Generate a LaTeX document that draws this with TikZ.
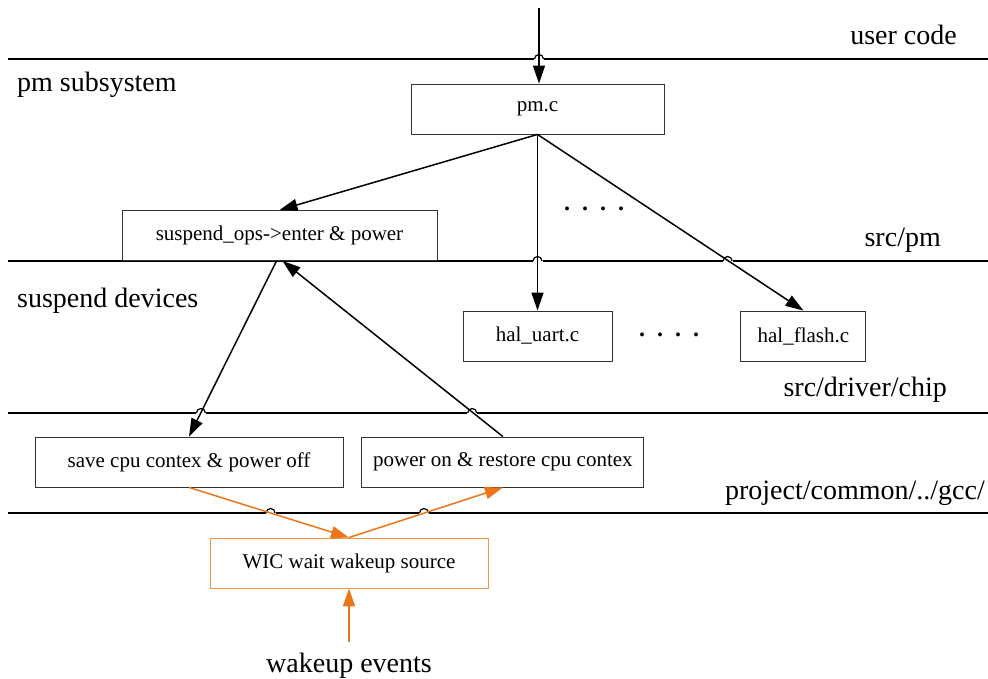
\documentclass[tikz,border=0pt]{standalone}
\usepackage{fontspec}
\setmainfont{Liberation Serif}
\usetikzlibrary{arrows.meta, positioning, calc}
\definecolor{wakeorange}{RGB}{236,117,26}
\definecolor{boxorange}{RGB}{242,150,70}
\definecolor{boxgray}{RGB}{50,50,50}

\begin{document}
\begin{tikzpicture}[
        x=1pt, y=-1pt,
        box/.style={rectangle, draw=boxgray, line width=0.9pt, minimum height=50pt, inner sep=0pt, font=\fontsize{21}{25}\selectfont},
        layer/.style={inner sep=0pt, font=\fontsize{28}{32}\selectfont},
        arr/.style={line width=1.5pt, -{Triangle[length=18pt,width=12pt]}},
        wake/.style={arr, wakeorange},
        sepline/.style={line width=1.4pt},
        hop/.style={line width=1.2pt}
    ]
        \useasboundingbox (0,0) rectangle (988,679);

        \foreach \y in {59,261,413,513}
            \draw[sepline] (8,\y) -- (988,\y);
        \foreach \x/\y in {539/59, 537.5/261, 727.6/261, 200.9/413, 472.2/413, 270.6/513, 424/513} {
            \fill[white] (\x-5,\y-1.2) rectangle (\x+5,\y+1.2);
            \draw[hop] (\x-4.5,\y) arc[start angle=180, end angle=0, radius=4.5pt];
        }

        \node[box, minimum width=253pt] (pmc) at (537.5,109) {pm.c};
        \node[box, minimum width=315pt] (susp) at (279.5,235.5) {suspend\_ops->enter \& power};
        \node[box, minimum width=149pt] (uart) at (537.5,336) {hal\_uart.c};
        \node[box, minimum width=125pt, right=128pt of uart] (flash) {hal\_flash.c};
        \node[box, minimum width=308pt] (save) at (189,462) {save cpu contex \& power off};
        \node[box, minimum width=282pt, right=18pt of save] (resume) {power on \& restore cpu contex};
        \node[box, draw=boxorange, minimum width=278pt] (wic) at (349,563) {WIC wait wakeup source};

        \node[font=\fontsize{24}{28}\selectfont\bfseries] (dotsa) at (594,209) {.\hspace{12pt}.\hspace{12pt}.\hspace{12pt}.};
        \node[font=\fontsize{24}{28}\selectfont\bfseries] (dotsb) at (669,335) {.\hspace{12pt}.\hspace{12pt}.\hspace{12pt}.};

        \node[layer, anchor=base east] (usercode) at (957,45) {user code};
        \node[layer, anchor=base west] (pmsub) at (17,92) {pm subsystem};
        \node[layer, anchor=base east] (srcpm) at (941,247) {src/pm};
        \node[layer, anchor=base west] (suspdev) at (17,307) {suspend devices};
        \node[layer, anchor=base east] (srcdrv) at (947,396) {src/driver/chip};
        \node[layer, anchor=base east] (proj) at (985,499) {project/common/../gcc/};
        \node[layer, inner ysep=10pt, anchor=base] (wakeev) at (349,672) {wakeup events};

        \coordinate (entry) at (539,8);
        \draw[arr] (entry) -- (entry |- pmc.north);
        \draw[arr] (pmc.south) -- (susp.north);
        \draw[arr] (pmc.south) -- (uart.north);
        \draw[arr] (pmc.south) -- (flash.north);
        \draw[arr] ([xshift=-3pt]susp.south) -- (save.north);
        \draw[arr] (resume.north) -- ([xshift=3pt]susp.south);
        \draw[wake] (save.south) -- (wic.north);
        \draw[wake] (wic.north) -- (resume.south);
        \draw[wake] (wakeev) -- (wic);
    \end{tikzpicture}
\end{document}
